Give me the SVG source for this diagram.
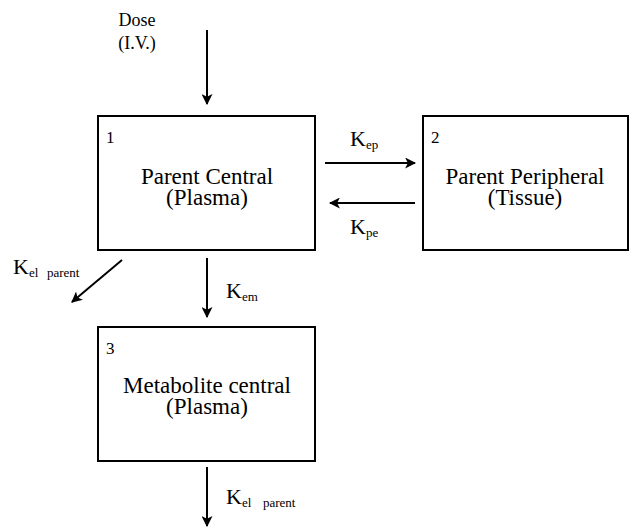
<svg xmlns="http://www.w3.org/2000/svg" width="630" height="532" viewBox="0 0 630 532">
<defs>
<marker id="ah" viewBox="0 0 10 10" refX="9" refY="5" markerWidth="11" markerHeight="11" markerUnits="userSpaceOnUse" orient="auto">
<path d="M0,0 L10,5 L0,10 L2.5,5 z" fill="#000"/>
</marker>
</defs>
<style>
text{font-family:"Liberation Serif","DejaVu Serif","Noto Serif","Times New Roman",serif;fill:#000}
.box{fill:#fff;stroke:#000;stroke-width:2}
.t{font-size:23px;text-anchor:middle}
.d{font-size:18px;text-anchor:middle}
.n{font-size:17px}
.k{font-size:22px}
.sub{font-size:13px}
.c{stroke:#000;stroke-width:2;fill:none;marker-end:url(#ah)}
</style>
<rect width="630" height="532" fill="#fff"/>
<g id="dose">
<text class="d" x="137" y="26">Dose</text>
<text class="d" x="137" y="49">(I.V.)</text>
</g>
<g id="node1">
<rect class="box" x="98" y="116" width="217" height="134"/>
<text class="n" x="106" y="143">1</text>
<text class="t" x="207" y="184">Parent Central</text>
<text class="t" x="207" y="205">(Plasma)</text>
</g>
<g id="node2">
<rect class="box" x="423" y="116" width="205" height="134"/>
<text class="n" x="431" y="143">2</text>
<text class="t" x="525" y="184">Parent Peripheral</text>
<text class="t" x="525" y="205">(Tissue)</text>
</g>
<g id="node3">
<rect class="box" x="98" y="327" width="217" height="134"/>
<text class="n" x="106" y="354">3</text>
<text class="t" x="207" y="393">Metabolite central</text>
<text class="t" x="207" y="414">(Plasma)</text>
</g>
<g id="connectors">
<line class="c" x1="207" y1="30" x2="207" y2="104"/>
<line class="c" x1="325" y1="163" x2="415" y2="163"/>
<line class="c" x1="415" y1="203" x2="330" y2="203"/>
<line class="c" x1="122" y1="260" x2="72" y2="302"/>
<line class="c" x1="207" y1="258" x2="207" y2="317"/>
<line class="c" x1="207" y1="467" x2="207" y2="526"/>
</g>
<g id="labels">
<text class="k" x="350" y="146">K<tspan class="sub" dy="3">ep</tspan></text>
<text class="k" x="350" y="234">K<tspan class="sub" dy="3">pe</tspan></text>
<text class="k" x="13" y="274">K<tspan class="sub" dy="3">el</tspan><tspan class="sub" x="47">parent</tspan></text>
<text class="k" x="226" y="298">K<tspan class="sub" dy="3">em</tspan></text>
<text class="k" x="226" y="504">K<tspan class="sub" dy="3">el</tspan><tspan class="sub" x="263">parent</tspan></text>
</g>
</svg>
